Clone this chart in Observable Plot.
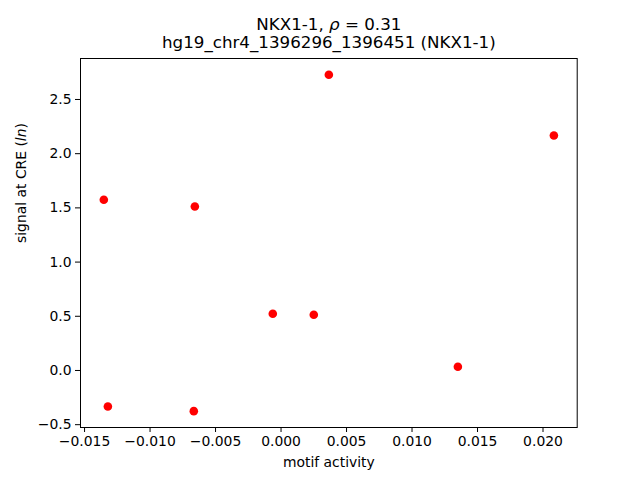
<!DOCTYPE html>
<html>
<head>
<meta charset="utf-8">
<script src="https://cdn.jsdelivr.net/npm/d3@7"></script>
<script src="https://cdn.jsdelivr.net/npm/@observablehq/plot@0.6"></script>
<style>
  html, body { margin: 0; padding: 0; background: #fff; }
</style>
</head>
<body>
<div id="chart"></div>
<script>
// Data
const motifActivity = [-0.01353, -0.01322, -0.00658, -0.00666, -0.00063, 0.00250, 0.00365, 0.01350, 0.02083];
const signalAtCRE   = [1.575, -0.332, 1.513, -0.375, 0.523, 0.514, 2.728, 0.034, 2.168];
const xTickValues = [-0.015, -0.010, -0.005, 0.000, 0.005, 0.010, 0.015, 0.020];
const yTickValues = [-0.5, 0.0, 0.5, 1.0, 1.5, 2.0, 2.5];
const titleLine1 = "NKX1-1, ρ = 0.31";
const titleLine2 = "hg19_chr4_1396296_1396451 (NKX1-1)";
const xLabel = "motif activity";
const yLabel = "signal at CRE (ln)";

const points = motifActivity.map((x, i) => ({x, y: signalAtCRE[i]}));

const chart = Plot.plot({
  width: 640,
  height: 480,
  marginLeft: 80,
  marginRight: 63.3,
  marginTop: 58,
  marginBottom: 53,
  style: {fontFamily: "DejaVu Sans", fontSize: "13.9px", background: "#fff", color: "#000"},
  x: {domain: [-0.01531, 0.02261]},
  y: {domain: [-0.526, 2.878]},
  marks: [
    Plot.frame({stroke: "#000", strokeWidth: 1}),
    Plot.axisX({ticks: xTickValues, tickFormat: d3.format(".3f"), tickSize: 5, tickPadding: 4, label: null}),
    Plot.axisY({ticks: yTickValues, tickFormat: d3.format(".1f"), tickSize: 5, tickPadding: 4, label: null}),
    Plot.dot(points, {x: "x", y: "y", r: 4.3, fill: "#ff0000", stroke: "none"}),
    Plot.text([xLabel], {frameAnchor: "bottom", dy: 35, text: d => d, fontSize: 13.9, lineAnchor: "middle"}),
    Plot.text([yLabel], {frameAnchor: "left", dx: -59, rotate: -90, text: d => d, fontSize: 13.9, lineAnchor: "middle"}),
    Plot.text([titleLine1], {frameAnchor: "top", dy: -34, text: d => d, fontSize: 16.7, lineAnchor: "middle"}),
    Plot.text([titleLine2], {frameAnchor: "top", dy: -16, text: d => d, fontSize: 16.7, lineAnchor: "middle"})
  ]
});

function italicize(svg, full, parts) {
  svg.querySelectorAll("text").forEach(t => {
    if (t.textContent === full) {
      while (t.firstChild) t.removeChild(t.firstChild);
      for (const [s, it] of parts) {
        const ts = document.createElementNS("http://www.w3.org/2000/svg", "tspan");
        ts.textContent = s;
        if (it) ts.setAttribute("font-style", "italic");
        t.appendChild(ts);
      }
    }
  });
}
italicize(chart, titleLine1, [["NKX1-1, ", false], ["ρ", true], [" = 0.31", false]]);
italicize(chart, yLabel, [["signal at CRE (", false], ["ln", true], [")", false]]);

document.getElementById("chart").appendChild(chart);
</script>
</body>
</html>
